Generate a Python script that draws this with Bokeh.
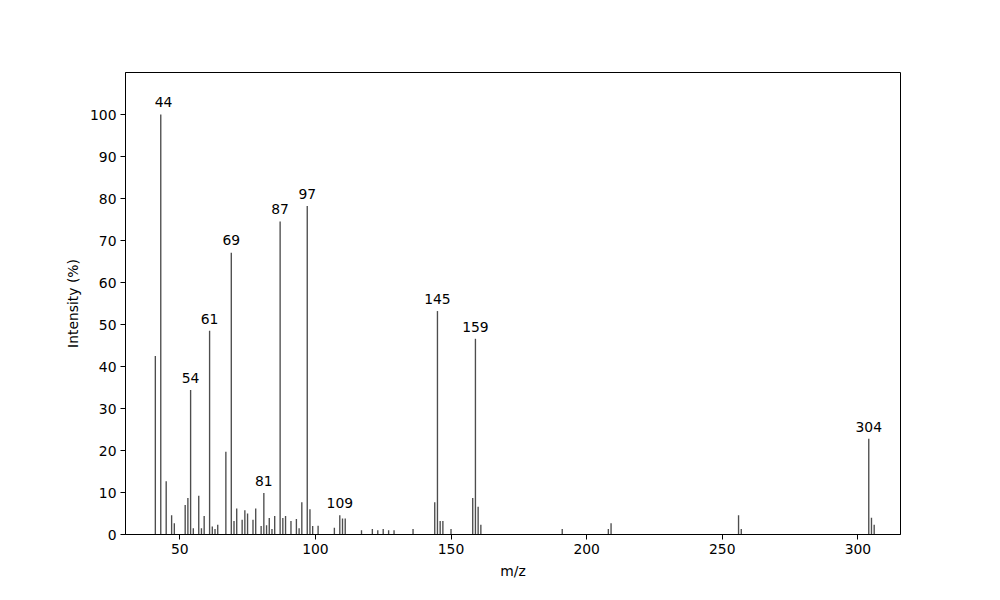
from bokeh.plotting import figure
from bokeh.models import ColumnDataSource, FixedTicker, Range1d
from bokeh.embed import file_html
from bokeh.resources import INLINE
from bokeh.core.properties import value

mz = [41, 43, 45, 47, 48, 52, 53, 54, 55, 57, 58, 59, 61, 62, 63, 64, 67, 69, 70, 71,
      73, 74, 75, 77, 78, 80, 81, 82, 83, 84, 85, 87, 88, 89, 91, 93, 94, 95, 97, 98,
      99, 101, 107, 109, 110, 111, 117, 121, 123, 125, 127, 129, 136, 144, 145, 146,
      147, 150, 158, 159, 160, 161, 191, 208, 209, 256, 257, 304, 305, 306]
intensity = [42.5, 100, 12.7, 4.6, 2.7, 7.0, 8.7, 34.4, 1.5, 9.2, 1.5, 4.4, 48.5, 1.9,
             1.3, 2.3, 19.7, 67.1, 3.2, 6.2, 3.5, 5.8, 5.0, 3.5, 6.2, 2.0, 9.9, 2.2,
             3.9, 1.3, 4.4, 74.5, 3.9, 4.4, 3.2, 3.7, 1.5, 7.7, 78.2, 6.0, 2.0, 2.1,
             1.6, 4.6, 3.8, 3.8, 1.0, 1.3, 1.0, 1.3, 1.0, 1.0, 1.3, 7.7, 53.2, 3.2,
             3.2, 1.3, 8.7, 46.6, 6.6, 2.3, 1.3, 1.3, 2.7, 4.6, 1.3, 22.8, 4.0, 2.3]

label_mz = [44, 54, 61, 69, 81, 87, 97, 109, 145, 159, 304]
label_int = [100, 34.4, 48.5, 67.1, 9.9, 74.5, 78.2, 4.6, 53.2, 46.6, 22.8]
label_text = ["44", "54", "61", "69", "81", "87", "97", "109", "145", "159", "304"]

x_ticks = [50, 100, 150, 200, 250, 300]
y_ticks = [0, 10, 20, 30, 40, 50, 60, 70, 80, 90, 100]

FONT = "DejaVu Sans"
FS = "13.9px"

p = figure(width=984, height=584, output_backend="svg", toolbar_location=None,
           x_range=Range1d(30, 315.7), y_range=Range1d(0, 110),
           min_border_left=125, min_border_right=84, min_border_top=72,
           min_border_bottom=50)
p.background_fill_color = "white"
p.border_fill_color = "white"
p.outline_line_color = "black"
p.outline_line_width = 1
p.xgrid.visible = False
p.ygrid.visible = False

src = ColumnDataSource(dict(x=mz, top=intensity))
p.vbar(x="x", top="top", bottom=0, width=0.5, source=src,
       fill_color="#4d4d4d", line_color=None)

lsrc = ColumnDataSource(dict(x=label_mz, y=[v + 1 for v in label_int], t=label_text))
p.text(x="x", y="y", text="t", source=lsrc, text_align="center",
       text_baseline="bottom", text_font=value(FONT), text_font_size=FS,
       text_color="black", y_offset=-3)

for ax, ticks, lab in ((p.xaxis, x_ticks, "m/z"), (p.yaxis, y_ticks, "Intensity (%)")):
    ax.ticker = FixedTicker(ticks=ticks)
    ax.axis_label = lab
    ax.axis_label_text_font = FONT
    ax.axis_label_text_font_size = FS
    ax.axis_label_text_font_style = "normal"
    ax.axis_label_text_color = "black"
    ax.major_label_text_font = FONT
    ax.major_label_text_font_size = FS
    ax.major_label_text_color = "black"
    ax.axis_line_color = "black"
    ax.major_tick_line_color = "black"
    ax.major_tick_out = 5
    ax.major_tick_in = 0
    ax.minor_tick_line_color = None
    ax.major_label_standoff = 4
    ax.axis_label_standoff = 6

open("out.html", "w").write(file_html(p, INLINE))
